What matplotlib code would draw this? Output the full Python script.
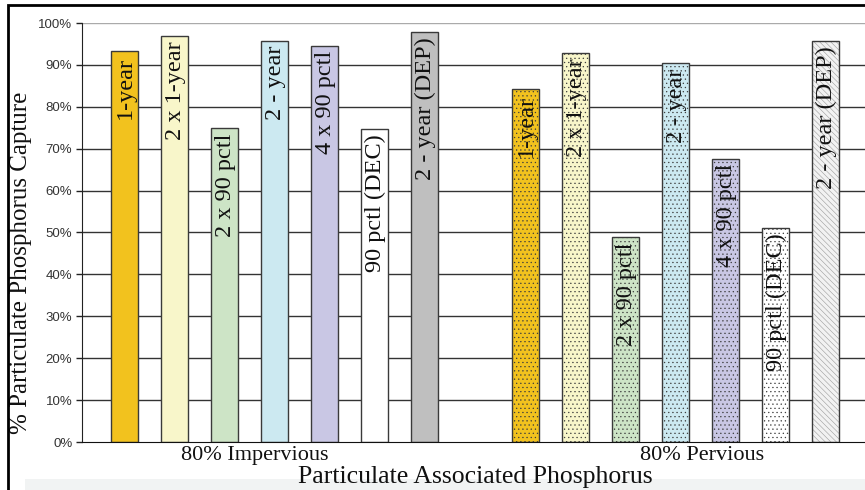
import matplotlib.pyplot as plt
from matplotlib.patches import Rectangle

# data
series = ["1-year", "2 x 1-year", "2 x 90 pctl", "2 - year",
          "4 x 90 pctl", "90 pctl (DEC)", "2 - year (DEP)"]
groups = ["80% Impervious", "80% Pervious"]
impervious = [93.2, 97.0, 74.9, 95.8, 94.6, 74.7, 97.9]
pervious = [84.2, 92.8, 48.9, 90.4, 67.6, 51.1, 95.7]
yticks = [0, 10, 20, 30, 40, 50, 60, 70, 80, 90, 100]

colors = ["#F2C21E", "#F8F6CA", "#CDE4C6", "#CCE9F1", "#C9C7E4", "#FFFFFF", "#BFBFBF"]

plt.rcParams["hatch.linewidth"] = 0.4

W, H = 865, 490
fig = plt.figure(figsize=(W / 100, H / 100), dpi=100)
ax = fig.add_axes([82 / W, 1 - 442 / H, 1 - 82 / W, (442 - 23) / H])

serif = "Liberation Serif"
width = 0.54

for g, vals in enumerate([impervious, pervious]):
    offset = g * 8
    for i, v in enumerate(vals):
        x = offset + i
        if g == 0:
            ax.bar(x, v, width, color=colors[i], edgecolor="#3a3a3a", lw=1, zorder=3)
        else:
            if i == 6:
                face, hatch, hc = "#f2f2f2", "\\\\\\\\\\\\", "#9c9c9c"
            else:
                face, hatch, hc = colors[i], "....", "#3c3c3c"
            ax.bar(x, v, width, color=face, edgecolor=hc, lw=0, hatch=hatch, zorder=3)
            ax.bar(x, v, width, color="none", edgecolor="#3a3a3a", lw=1, zorder=4)
        ax.text(x + 0.02, v - 1.3, series[i], rotation=90, ha="center", va="top",
                fontsize=17.5, family=serif, color="#111111", zorder=5)

# gridlines
for t in yticks[1:]:
    ax.axhline(t, color="#aaaaaa" if t == 100 else "#333333", lw=1, zorder=1)

ax.set_xlim(-0.84, 14.78)
ax.set_ylim(0, 100)
ax.set_yticks(yticks)
ax.set_yticklabels([f"{t}%" for t in yticks], fontsize=9.5, color="#333333",
                   family="Liberation Sans")
ax.set_xticks([])
ax.tick_params(axis="y", length=4, width=1, color="#222222", pad=3)
for s in ["top", "right"]:
    ax.spines[s].set_visible(False)
ax.spines["left"].set_color("#222222")
ax.spines["bottom"].set_color("#111111")
ax.spines["left"].set_zorder(6)
ax.spines["bottom"].set_zorder(6)

# category labels
fig.text(255 / W, 1 - 455 / H, groups[0], ha="center", va="center",
         fontsize=16, family=serif, color="#111111")
fig.text(702 / W, 1 - 456 / H, groups[1], ha="center", va="center",
         fontsize=16, family=serif, color="#111111")

# bottom strip and axis titles
fig.patches.append(Rectangle((25 / W, 0), 1, 11 / H, transform=fig.transFigure,
                             facecolor="#f1f3f3", edgecolor="none", zorder=0))
fig.text(475 / W, 1 - 477 / H, "Particulate Associated Phosphorus", ha="center",
         va="center", fontsize=18.5, family=serif, color="#111111")
fig.text(21 / W, 1 - 263 / H, "% Particulate Phosphorus Capture", ha="center",
         va="center", rotation=90, fontsize=18, family=serif, color="#111111")

# outer frame
fig.patches.append(Rectangle((8 / W, -0.1), 1.2, 1.1 - 5 / H, transform=fig.transFigure,
                             facecolor="none", edgecolor="black", lw=2, zorder=10))

fig.savefig("out.png", dpi=100)
